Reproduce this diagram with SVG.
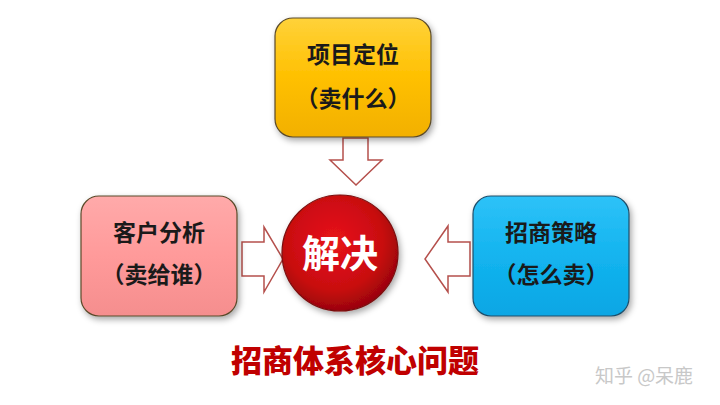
<svg xmlns="http://www.w3.org/2000/svg" width="720" height="405" viewBox="0 0 720 405">
  <defs>
    <linearGradient id="gYellow" x1="0" y1="0" x2="0" y2="1">
      <stop offset="0" stop-color="#FFD23A"/>
      <stop offset="0.5" stop-color="#FFC000"/>
      <stop offset="1" stop-color="#F2B000"/>
    </linearGradient>
    <linearGradient id="gPink" x1="0" y1="0" x2="0" y2="1">
      <stop offset="0" stop-color="#FFAAAA"/>
      <stop offset="0.5" stop-color="#FF9A9A"/>
      <stop offset="1" stop-color="#F58E8E"/>
    </linearGradient>
    <linearGradient id="gBlue" x1="0" y1="0" x2="0" y2="1">
      <stop offset="0" stop-color="#2EC2F8"/>
      <stop offset="0.5" stop-color="#13B4EF"/>
      <stop offset="1" stop-color="#0AA6E4"/>
    </linearGradient>
    <radialGradient id="gRed" cx="0.45" cy="0.4" r="0.6">
      <stop offset="0" stop-color="#E8141A"/>
      <stop offset="0.7" stop-color="#C80A10"/>
      <stop offset="1" stop-color="#9A0508"/>
    </radialGradient>
    <filter id="shadow" x="-20%" y="-20%" width="140%" height="140%">
      <feDropShadow dx="2" dy="3" stdDeviation="3" flood-color="#000" flood-opacity="0.35"/>
    </filter>
  </defs>
  <style>
    .box { stroke: #5a4a2a; stroke-width: 1.2; filter: url(#shadow); }
    .lbl { font-family: "Noto Sans CJK SC", "Noto Sans", sans-serif; font-weight: bold; font-size: 23px; fill: #1a1a1a; text-anchor: middle; }
    .arrow { fill: #ffffff; stroke: #B5504C; stroke-width: 1.5; stroke-linejoin: miter; }
  </style>
  <rect width="720" height="405" fill="#ffffff"/>

  <g id="connectors">
    <path class="arrow" d="M343,138 L368,138 L368,160 L382,160 L356,185 L330,160 L343,160 Z"/>
    <path class="arrow" d="M242,242 L264,242 L264,227 L283,259 L264,292 L264,276 L242,276 Z"/>
    <path class="arrow" d="M470,242 L448,242 L448,226 L425,259 L448,292 L448,276 L470,276 Z"/>
  </g>

  <g id="node-top">
    <rect class="box" x="275" y="18" width="156" height="119" rx="18" fill="url(#gYellow)"/>
    <text class="lbl" x="353" y="63">项目定位</text>
    <text class="lbl" x="353" y="107">（卖什么）</text>
  </g>

  <g id="node-left">
    <rect class="box" x="81" y="196" width="156" height="120" rx="18" fill="url(#gPink)"/>
    <text class="lbl" x="159" y="241">客户分析</text>
    <text class="lbl" x="159" y="283">（卖给谁）</text>
  </g>

  <g id="node-right">
    <rect class="box" x="473" y="196" width="156" height="120" rx="18" fill="url(#gBlue)" style="stroke:#1f4e6a"/>
    <text class="lbl" x="551" y="241">招商策略</text>
    <text class="lbl" x="551" y="283">（怎么卖）</text>
  </g>

  <g id="node-center">
    <circle cx="340" cy="253" r="58" fill="url(#gRed)" stroke="#7a0a0a" stroke-width="1.2" filter="url(#shadow)"/>
    <text x="340" y="267" font-family="Noto Sans CJK SC, sans-serif" font-weight="bold" font-size="38" fill="#ffffff" text-anchor="middle">解决</text>
  </g>

  <text id="title" x="355" y="372" font-family="Noto Sans CJK SC, sans-serif" font-weight="900" font-size="31" fill="#C00000" text-anchor="middle">招商体系核心问题</text>

  <text id="watermark" x="644" y="383" font-family="Noto Sans CJK SC, sans-serif" font-size="19" fill="#c8c8c8" text-anchor="middle">知乎 @呆鹿</text>
</svg>
